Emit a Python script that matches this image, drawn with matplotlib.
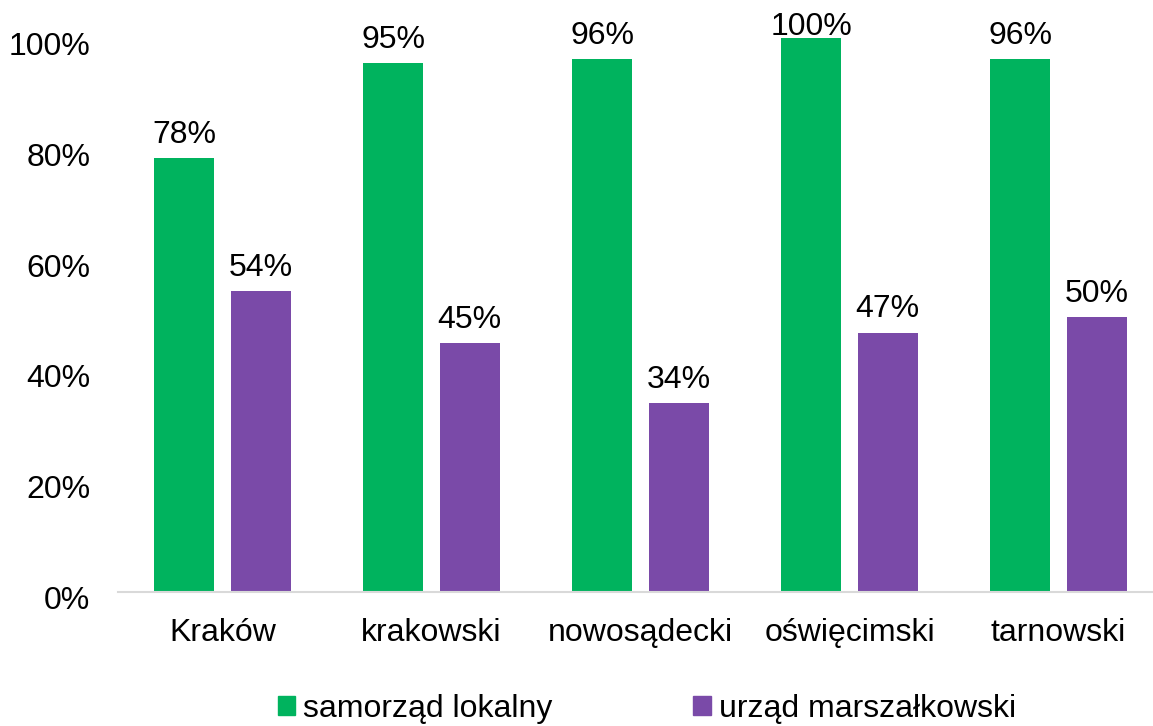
import matplotlib.pyplot as plt
import matplotlib.transforms as mtransforms
import numpy as np
from matplotlib.patches import Patch

plt.rcParams['font.family'] = ['Liberation Sans', 'DejaVu Sans']

# Data
categories = ['Kraków', 'krakowski', 'nowosądecki', 'oświęcimski', 'tarnowski']
samorzad = [78.3, 95.4, 96.2, 100.0, 96.2]
urzad = [54.3, 44.9, 34.1, 46.8, 49.6]
series_names = ['samorząd lokalny', 'urząd marszałkowski']

green = '#00B35E'
purple = '#7A4AA8'
fs = 23

fig = plt.figure(figsize=(11.53, 7.26), dpi=100)
ax = fig.add_axes([118 / 1153, (726 - 592) / 726, 1045 / 1153, (592 - 38) / 726])

x = np.arange(len(categories))
w = 0.287
off = 0.182
b1 = ax.bar(x - off, samorzad, w, color=green)
b2 = ax.bar(x + off, urzad, w, color=purple)

# value labels; the one at the top edge is pushed down onto the bar like in Excel
for bars in (b1, b2):
    for rect, v in zip(bars, bars.datavalues):
        pad = 6 if v < 99 else -3
        ax.annotate(f'{v:.0f}%', (rect.get_x() + rect.get_width() / 2, v),
                    xytext=(0, pad), textcoords='offset points',
                    ha='center', va='bottom', fontsize=fs)

ax.set_xlim(-0.5, len(categories) - 0.5)
ax.set_ylim(0, 100)
ax.set_yticks(np.arange(0, 101, 20))
ax.set_yticklabels([f'{t}%' for t in range(0, 101, 20)])
ax.set_xticks(x)
ax.set_xticklabels(categories)
ax.tick_params(axis='y', length=0, pad=20, labelsize=fs)
ax.tick_params(axis='x', length=0, pad=19, labelsize=fs)
shift = mtransforms.ScaledTranslation(0, -4 / 72, fig.dpi_scale_trans)
for lbl in ax.get_yticklabels():
    lbl.set_transform(lbl.get_transform() + shift)

for s in ['top', 'right', 'left']:
    ax.spines[s].set_visible(False)
ax.spines['bottom'].set_color('#D9D9D9')
ax.spines['bottom'].set_linewidth(1.5)

handles = [Patch(color=green), Patch(color=purple)]
fig.legend(handles, series_names, loc='center', bbox_to_anchor=(647 / 1153, (726 - 709) / 726),
           ncol=2, frameon=False, fontsize=fs, handlelength=0.55, handleheight=0.55,
           handletextpad=0.25, columnspacing=4.4, borderaxespad=0)

fig.savefig('out.png', dpi=100)
